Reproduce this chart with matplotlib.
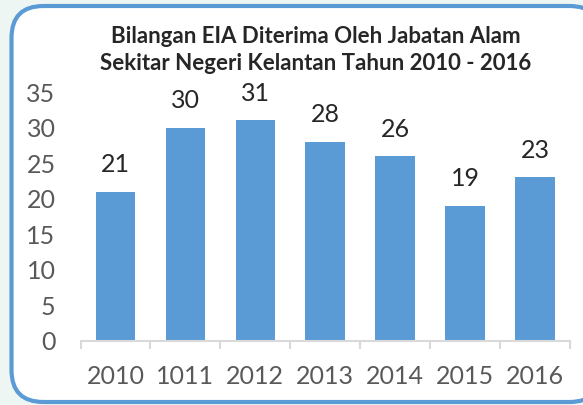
import numpy as np
import matplotlib
matplotlib.use("Agg")
import matplotlib.pyplot as plt
from matplotlib.patches import FancyBboxPatch

plt.rcParams['font.family'] = ['Lato', 'DejaVu Sans']

# data
years = ['2010', '1011', '2012', '2013', '2014', '2015', '2016']
counts = [21, 30, 31, 28, 26, 19, 23]
title = 'Bilangan EIA Diterima Oleh Jabatan Alam\nSekitar Negeri Kelantan Tahun 2010 - 2016'

W, H = 583, 405
fig = plt.figure(figsize=(W / 100, H / 100), dpi=100)
fig.patch.set_facecolor('#EEF6F3')

# rounded frame, drawn in pixel units
bg = fig.add_axes([0, 0, 1, 1])
bg.set_xlim(0, W)
bg.set_ylim(H, 0)
bg.axis('off')
bg.add_patch(FancyBboxPatch((11.5, 6), 590, 396,
                            boxstyle='round,pad=0,rounding_size=32',
                            facecolor='white', edgecolor='#5B9BD5', linewidth=3))

ax = fig.add_axes([80.5 / W, (H - 341) / H, (570 - 80.5) / W, (341 - 92) / H])
ax.set_facecolor('none')
x = np.arange(len(years))
bars = ax.bar(x, counts, width=0.566, color='#5B9BD5')

ax.set_xlim(-0.5, len(years) - 0.5)
ax.set_ylim(0, 35)
ax.set_yticks(range(0, 36, 5))

ax.set_xticks(np.arange(-0.5, len(years)), labels=[])
ax.set_xticks(x, labels=years, minor=True)
ax.tick_params(axis='x', which='major', length=6, width=1.5, color='#D9D9D9')
ax.tick_params(axis='x', which='minor', length=0, pad=17, labelsize=18, labelcolor='#595959')
ax.tick_params(axis='y', length=0, pad=18, labelsize=18, labelcolor='#595959')

for s in ['top', 'right', 'left']:
    ax.spines[s].set_visible(False)
ax.spines['bottom'].set_color('#D9D9D9')
ax.spines['bottom'].set_linewidth(1.5)

for xi, v in zip(x, counts):
    ax.annotate(str(v), (xi, v), xytext=(0, 14), textcoords='offset points',
                ha='center', va='baseline', fontsize=18, color='#262626')

fig.text(316 / W, 1 - 50 / H, title, ha='center', va='center', fontsize=16,
         fontweight='bold', color='#262626', linespacing=1.3)

fig.savefig('out.png', dpi=100, facecolor=fig.get_facecolor())
